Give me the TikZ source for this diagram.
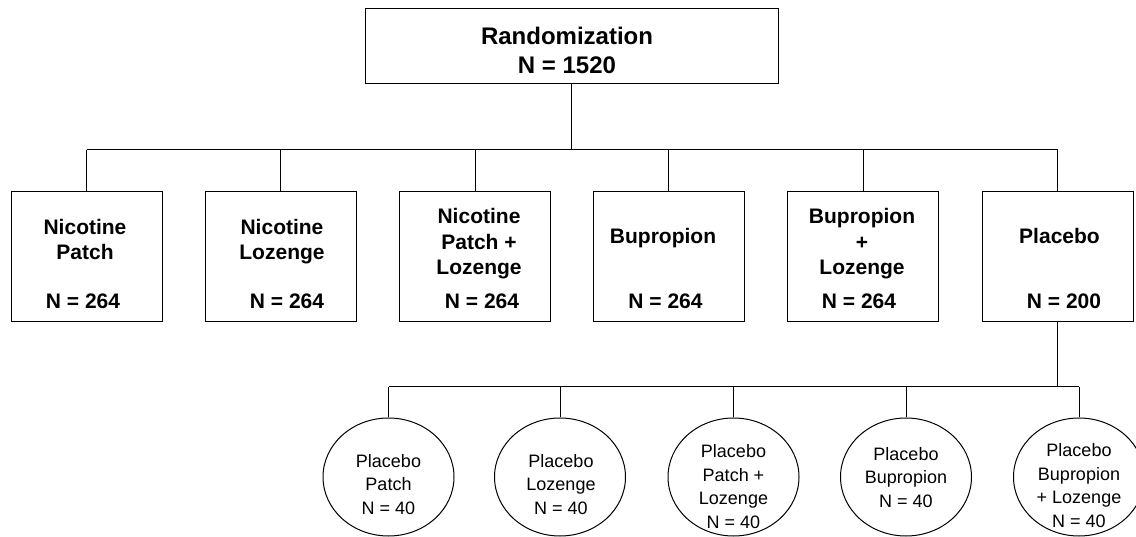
\documentclass[tikz,border=0pt]{standalone}
\usepackage{fontspec}
\setmainfont{Liberation Sans}
\usetikzlibrary{shapes.geometric}
\begin{document}
\begin{tikzpicture}[x=1pt,y=-1pt,line width=1pt,
  topbox/.style={draw,rectangle,minimum width=413pt,minimum height=75pt,inner sep=0pt},
  armbox/.style={draw,rectangle,minimum width=151pt,minimum height=130pt,inner sep=0pt},
  subell/.style={draw,ellipse,minimum width=131pt,minimum height=118pt,inner sep=0pt},
  toptext/.style={align=center,inner sep=0pt,anchor=base,font=\fontsize{24}{29}\selectfont\bfseries},
  armtext/.style={align=center,inner sep=0pt,anchor=base,font=\fontsize{21}{25.5}\selectfont\bfseries},
  subtext/.style={align=center,inner sep=0pt,anchor=base,font=\fontsize{18}{23.5}\selectfont}]
\useasboundingbox (0,0) rectangle (1136,537);

% top
\node[topbox] (top) at (571.5,46.5) {};
\node[toptext] (toptx) at (567,74) {Randomization\\N = 1520};

% arms
\node[armbox] (a1) at (86.5,257) {};
\node[armbox] (a2) at (280.5,257) {};
\node[armbox] (a3) at (475,257) {};
\node[armbox] (a4) at (668.5,257) {};
\node[armbox] (a5) at (863,257) {};
\node[armbox] (a6) at (1057.5,257) {};

\node[armtext] (a1t) at (85,260) {Nicotine\\Patch};
\node[armtext] (a1n) at (83,309) {N = 264};
\node[armtext] (a2t) at (282,260) {Nicotine\\Lozenge};
\node[armtext] (a2n) at (287,309) {N = 264};
\node[armtext] (a3t) at (479,275) {Nicotine\\Patch +\\Lozenge};
\node[armtext] (a3n) at (482,309) {N = 264};
\node[armtext] (a4t) at (663,244) {Bupropion};
\node[armtext] (a4n) at (665.5,309) {N = 264};
\node[armtext] (a5t) at (862,275) {Bupropion\\+\\Lozenge};
\node[armtext] (a5n) at (859,309) {N = 264};
\node[armtext] (a6t) at (1059.5,244) {Placebo};
\node[armtext] (a6n) at (1064,309) {N = 200};

% placebo subgroups
\node[subell] (c1) at (388.5,477) {};
\node[subell] (c2) at (560,477) {};
\node[subell] (c3) at (733.5,477) {};
\node[subell] (c4) at (906,477) {};
\node[subell] (c5) at (1079,477) {};

\node[subtext] (c1t) at (388.5,514) {Placebo\\Patch\\N = 40};
\node[subtext] (c2t) at (561,514) {Placebo\\Lozenge\\N = 40};
\node[subtext] (c3t) at (733.5,528) {Placebo\\Patch +\\Lozenge\\N = 40};
\node[subtext] (c4t) at (906,507) {Placebo\\Bupropion\\N = 40};
\node[subtext] (c5t) at (1079,527) {Placebo\\Bupropion\\+ Lozenge\\N = 40};

% connectors
\coordinate (b1L) at (86.5,150);
\coordinate (b1R) at (1057.5,150);
\coordinate (b2L) at (388.5,387);
\coordinate (b2R) at (1079,387);

\draw (top.south) -- (top.south |- b1L);
\draw (b1L) -- (b1R);
\foreach \n in {a1,a2,a3,a4,a5,a6}{
  \draw (\n.north) -- (\n.north |- b1L);
}
\draw (a6.south) -- (a6.south |- b2L);
\draw (b2L) -- (b2R);
\foreach \n in {c1,c2,c3,c4,c5}{
  \draw (\n.north) -- (\n.north |- b2L);
}
\end{tikzpicture}
\end{document}
